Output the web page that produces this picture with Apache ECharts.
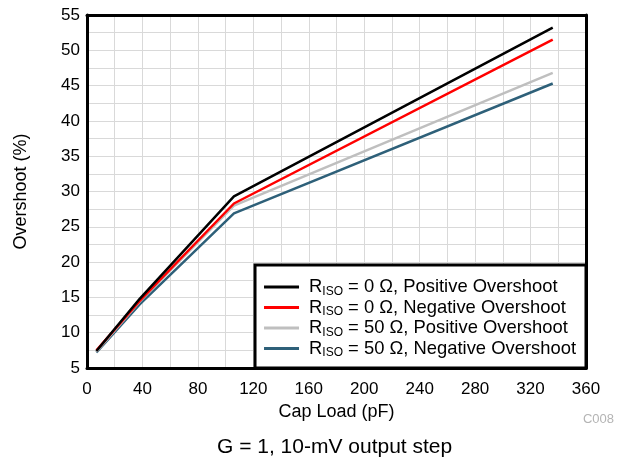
<!DOCTYPE html>
<html>
<head>
<meta charset="utf-8">
<script src="https://cdn.jsdelivr.net/npm/echarts@6/dist/echarts.min.js"></script>
<style>
  html, body { margin: 0; padding: 0; background: #fff; }
  #chart { width: 621px; height: 462px; }
</style>
</head>
<body>
<div id="chart"></div>
<script>
const capLoad = [6.8, 38, 106, 336];

const riso0Pos = [7.4, 14.8, 29.3, 53.2];
const riso0Neg = [7.5, 14.5, 28.3, 51.5];
const riso50Pos = [7.3, 14.4, 28.0, 46.8];
const riso50Neg = [7.2, 14.0, 26.9, 45.3];

const seriesNames = [
  'RISO = 0 Ω, Positive Overshoot',
  'RISO = 0 Ω, Negative Overshoot',
  'RISO = 50 Ω, Positive Overshoot',
  'RISO = 50 Ω, Negative Overshoot'
];
const seriesColors = ['#000000', '#ff0000', '#bfbfbf', '#2e6079'];
const seriesValues = [riso0Pos, riso0Neg, riso50Pos, riso50Neg];

const font = '"Liberation Sans", Arial, Helvetica, sans-serif';

const chart = echarts.init(document.getElementById('chart'));

// plain frame axes for the top and right edges
const frameAxis = {
  axisLine: { show: true, onZero: false, lineStyle: { color: '#000', width: 3 } },
  axisTick: { show: false },
  axisLabel: { show: false },
  splitLine: { show: false }
};

const option = {
  animation: false,
  textStyle: { fontFamily: font },
  title: [
    {
      text: 'G = 1, 10-mV output step',
      left: 217,
      bottom: 4,
      padding: 0,
      textStyle: { fontSize: 21, fontWeight: 'normal', color: '#000', fontFamily: font }
    },
    {
      text: 'C008',
      right: 7,
      top: 413,
      padding: 0,
      textStyle: { fontSize: 13, fontWeight: 'normal', color: '#b4b4b4', fontFamily: font }
    }
  ],
  grid: {
    left: 87,
    right: 35,
    top: 15,
    bottom: 94,
    show: true,
    borderWidth: 0,
    backgroundColor: '#fff'
  },
  legend: {
    orient: 'vertical',
    right: 35,
    bottom: 94,
    padding: [13, 10, 9, 9],
    itemGap: 1,
    itemWidth: 35,
    itemHeight: 3,
    icon: 'rect',
    selectedMode: false,
    backgroundColor: '#fff',
    borderColor: '#000',
    borderWidth: 3,
    borderRadius: 0,
    formatter: name => '{f|R}{s|ISO}{n|' + name.slice(4) + '}',
    textStyle: {
      fontFamily: font,
      rich: {
        f: { fontSize: 18.4, lineHeight: 21, color: '#000', fontFamily: font, padding: [0, 0, 0, 5] },
        n: { fontSize: 18.4, lineHeight: 21, color: '#000', fontFamily: font },
        s: { fontSize: 12, lineHeight: 10, verticalAlign: 'bottom', color: '#000', fontFamily: font }
      }
    },
    data: seriesNames
  },
  xAxis: [
    {
      type: 'value',
      min: 0,
      max: 360,
      interval: 40,
      name: 'Cap Load (pF)',
      nameLocation: 'middle',
      nameGap: 34,
      nameTextStyle: { fontSize: 18, color: '#000', fontFamily: font },
      axisLine: { show: true, onZero: false, lineStyle: { color: '#000', width: 3 } },
      axisTick: { show: false },
      axisLabel: { fontSize: 17, color: '#000', margin: 13, fontFamily: font },
      splitLine: { show: true, lineStyle: { color: '#d9d9d9', width: 1 } },
      minorTick: { show: false, splitNumber: 2 },
      minorSplitLine: { show: true, lineStyle: { color: '#d9d9d9', width: 1 } }
    },
    Object.assign({ type: 'value', position: 'top', min: 0, max: 360, interval: 40 }, frameAxis)
  ],
  yAxis: [
    {
      type: 'value',
      min: 5,
      max: 55,
      interval: 5,
      name: 'Overshoot (%)',
      nameLocation: 'middle',
      nameGap: 57,
      nameTextStyle: { fontSize: 18, color: '#000', fontFamily: font },
      axisLine: { show: true, onZero: false, lineStyle: { color: '#000', width: 3 } },
      axisTick: { show: false },
      axisLabel: { fontSize: 17, color: '#000', margin: 7, fontFamily: font },
      splitLine: { show: true, lineStyle: { color: '#d9d9d9', width: 1 } },
      minorTick: { show: false, splitNumber: 2 },
      minorSplitLine: { show: true, lineStyle: { color: '#d9d9d9', width: 1 } }
    },
    Object.assign({ type: 'value', position: 'right', min: 5, max: 55, interval: 5 }, frameAxis)
  ],
  series: seriesNames.map((name, i) => ({
    name: name,
    type: 'line',
    data: capLoad.map((x, j) => [x, seriesValues[i][j]]),
    showSymbol: false,
    symbol: 'none',
    z: 10 - i,
    color: seriesColors[i],
    lineStyle: { color: seriesColors[i], width: 2.5 }
  }))
};

chart.setOption(option);
</script>
</body>
</html>
